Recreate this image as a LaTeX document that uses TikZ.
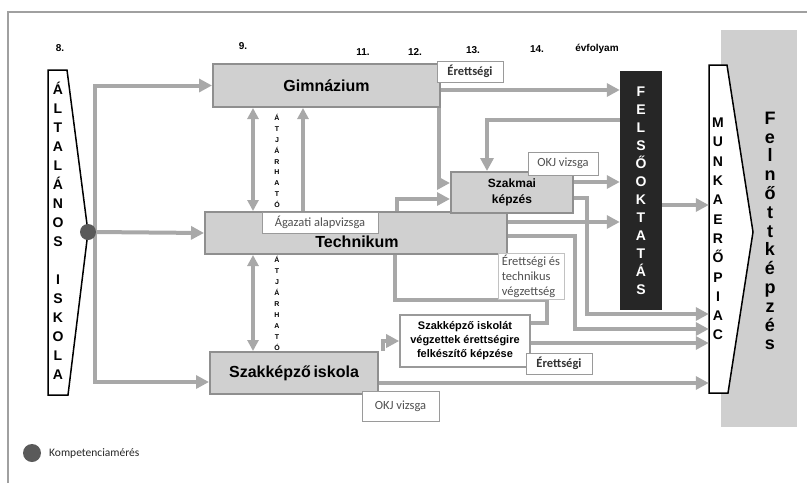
\documentclass[tikz,border=0pt]{standalone}
\usepackage{fontspec}
\setmainfont{Liberation Sans}
\newfontfamily\lab{Carlito}
\usetikzlibrary{arrows.meta}
\definecolor{boxfill}{HTML}{D0D0D0}
\definecolor{boxborder}{HTML}{8F8F8F}
\definecolor{arrowc}{HTML}{A8A8A8}
\definecolor{lblborder}{HTML}{9A9A9A}
\definecolor{labeltext}{HTML}{505050}
\definecolor{darkfill}{HTML}{262626}
\definecolor{bgfill}{HTML}{CFCFCF}
\definecolor{dotc}{HTML}{5A5A5A}
\definecolor{framec}{HTML}{A0A0A0}
\tikzset{
  box/.style={draw=boxborder, fill=boxfill, line width=2pt, inner sep=0pt,
    font=\bfseries\fontsize{16}{18}\selectfont},
  wbox/.style={draw=lblborder, fill=white, line width=1.6pt, inner sep=0pt, align=center,
    font=\bfseries\fontsize{11}{14}\selectfont},
  lbl/.style={draw=lblborder, fill=white, line width=1pt, inner sep=0pt,
    font=\lab\fontsize{12.5}{13}\selectfont, text=labeltext},
  lblb/.style={lbl, font=\lab\bfseries\fontsize{12.5}{13}\selectfont, text=black!80},
  vtext/.style={align=center, inner sep=0pt, font=\bfseries\fontsize{14}{19}\selectfont},
  year/.style={inner sep=0pt, font=\bfseries\fontsize{10}{12}\selectfont},
  conn/.style={draw=arrowc, line width=4pt},
  arr/.style={conn, -{Triangle[length=13pt,width=13pt]}},
  darr/.style={draw=arrowc, line width=3.2pt, {Triangle[length=11pt,width=11pt]}-{Triangle[length=11pt,width=11pt]}},
  uarr/.style={draw=arrowc, line width=3.2pt, -{Triangle[length=11pt,width=11pt]}},
}
\begin{document}
\begin{tikzpicture}[x=1pt,y=-1pt]
\useasboundingbox (0,0) rectangle (807,483);
% frame
\draw[framec, line width=1.5pt] (8,483) -- (8,12) -- (807,12);

% background Felnottkepzes
\node[fill=bgfill, minimum width=76pt, minimum height=397pt, inner sep=0pt] (felnott) at (759,228.5) {};
\node[vtext, font=\bfseries\fontsize{18}{18.8}\selectfont] (felnotttxt) at (770,231)
  {F\\e\\l\\n\\ő\\t\\t\\k\\é\\p\\z\\é\\s};

% year labels
\node[year] (y8) at (60,48) {8.};
\node[year] (y9) at (243,46) {9.};
\node[year] (y11) at (363,52) {11.};
\node[year] (y12) at (415,52) {12.};
\node[year] (y13) at (473,50) {13.};
\node[year] (y14) at (537,49) {14.};
\node[year] (yevf) at (597,49) {évfolyam};

% main boxes
\node[box, minimum width=227pt, minimum height=43pt] (gym) at (326.5,85.5) {Gimnázium};
\node[box, minimum width=302pt, minimum height=42pt] (tech) at (356,233) {};
\node[box, minimum width=168pt, minimum height=42pt] (szi) at (294,373) {Szakképző\,iskola};
\node[box, minimum width=122pt, minimum height=41pt, align=center, font=\bfseries\fontsize{12}{16}\selectfont] (szakm) at (512,192.5) {Szakmai\\képzés};
\node[wbox, minimum width=130pt, minimum height=52pt] (szkisk) at (465,341)
  {Szakképző iskolát\\végzettek érettségire\\felkészítő képzése};
\node[fill=darkfill, minimum width=42pt, minimum height=239pt, inner sep=0pt] (felso) at (641,190.5) {};
\node[vtext, text=white, font=\bfseries\fontsize{14}{18}\selectfont] (felsotxt) at (641,191)
  {F\\E\\L\\S\\Ő\\O\\K\\T\\A\\T\\Á\\S};

% Munkaeropiac pentagon
\node[minimum width=18pt, minimum height=328pt, inner sep=0pt] (munka) at (718,229) {};
\draw[fill=white, line width=1.5pt] (709,65) -- (727,65) -- (753,232) -- (728,393) -- (709,393) -- cycle;
\node[vtext, font=\bfseries\fontsize{14}{19.3}\selectfont] (munkatxt) at (718,229)
  {M\\U\\N\\K\\A\\E\\R\\Ő\\P\\I\\A\\C};

% Altalanos iskola pentagon
\draw[fill=white, line width=1.5pt] (48,70) -- (67,70) -- (88,232) -- (68,395) -- (48,395) -- cycle;
\node[vtext] (alt) at (58,231)
  {Á\\L\\T\\A\\L\\Á\\N\\O\\S\\[19pt]I\\S\\K\\O\\L\\A};
\coordinate (split) at (95,232);

% labels
\node[lblb, minimum width=66pt, minimum height=21pt] (er1) at (470,71.5) {Érettségi};
\node[lbl, minimum width=70pt, minimum height=23pt] (okj1) at (563,163.5) {OKJ vizsga};
\node[lblb, minimum width=66pt, minimum height=21pt] (er2) at (559,363.5) {Érettségi};
\node[lbl, minimum width=77pt, minimum height=30pt] (okj2) at (400.5,406) {OKJ vizsga};

% connectors from Altalanos iskola
\draw[arr] (split) |- (gym.west);
\draw[arr] (split) |- ([yshift=-9pt]szi.west);
\draw[arr] (split) -- (tech.west);

% atjarhato
\draw[darr] (gym.south -| 253,0) -- (tech.north -| 253,0);
\draw[uarr] (tech.north -| 303,0) -- (gym.south -| 303,0);
\draw[darr] (tech.south -| 253,0) -- (szi.north -| 253,0);
\node[vtext, font=\bfseries\fontsize{7}{10.9}\selectfont] (atj1) at (277,161) {Á\\T\\J\\Á\\R\\H\\A\\T\\Ó};
\node[vtext, font=\bfseries\fontsize{7}{10.9}\selectfont] (atj2) at (277,303.5) {Á\\T\\J\\Á\\R\\H\\A\\T\\Ó};

% Gimnazium outputs
\draw[arr] (gym.east |- 0,90) -- (felso.west |- 0,90);
\draw[arr] ([xshift=-2pt]gym.south east) |- (szakm.west |- 0,183);

% Felsooktatas outputs
\draw[arr] (felso.west |- 0,120) -| (szakm.north -| 487,0);
\draw[arr] (felso.east |- 0,205) -- (munka.west |- 0,205);

% Szakmai kepzes outputs
\draw[arr] (szakm.east |- 0,182) -- (felso.west |- 0,182);
\draw[arr] (szakm.east |- 0,198) -| (587,314) -- (munka.west |- 0,314);

% Technikum outputs
\draw[arr] (tech.north -| 397,0) |- (szakm.west |- 0,199);
\draw[arr] (tech.east |- 0,222) -- (felso.west |- 0,222);
\draw[arr] (tech.east |- 0,236) -| (575,329) -- (munka.west |- 0,329);
\draw[conn] (tech.south -| 395,0) |- (547,300) |- (szkisk.east |- 0,323);
\node[draw=lblborder!60, line width=0.8pt, fill=white, inner sep=0pt, minimum width=66pt, minimum height=46pt,
  align=left, font=\lab\fontsize{12.5}{15}\selectfont, text=labeltext] (ertech) at (531,276.5)
  {Érettségi és\\technikus\\végzettség};

% Szakkepzo iskola outputs
\draw[arr] ([xshift=4pt]szi.north east) |- (szkisk.west);
\draw[arr] (szi.east |- 0,383) -- (munka.west |- 0,383);
\draw[arr] (szkisk.east |- 0,343) -- (munka.west |- 0,343);

% texts inside Technikum
\node[lbl, minimum width=116pt, minimum height=21pt] (agaz) at (320,222.5) {Ágazati alapvizsga};
\node[inner sep=0pt, font=\bfseries\fontsize{16}{18}\selectfont] (techtxt) at (357,242) {Technikum};

% competence dot
\node[circle, fill=dotc, minimum size=16pt, inner sep=0pt] (dot) at (88,232) {};

% legend
\node[circle, fill=dotc, minimum size=18pt, inner sep=0pt] (legdot) at (32,453) {};
\node[anchor=west, inner sep=0pt, font=\lab\fontsize{11.5}{13}\selectfont, text=black!85] (legtxt) at (49,453) {Kompetenciamérés};
\end{tikzpicture}
\end{document}
